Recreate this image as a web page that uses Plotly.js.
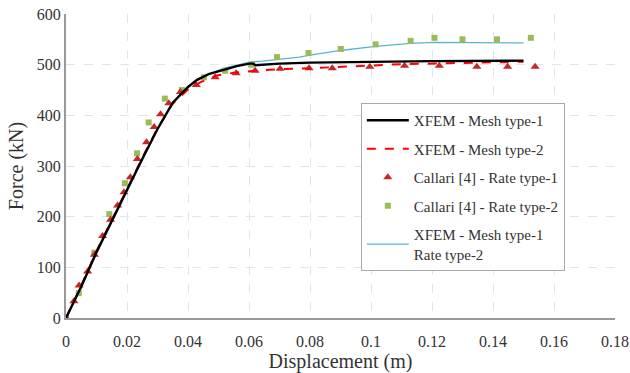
<!DOCTYPE html>
<html>
<head>
<meta charset="utf-8">
<script src="https://cdn.plot.ly/plotly-3.0.1.min.js"></script>
<style>html,body{margin:0;padding:0;background:#fff;}#chart{width:630px;height:373px;}</style>
</head>
<body>
<div id="chart"></div>
<script>
// XFEM - Mesh type-1
var mesh1X = [0, 0.005, 0.01, 0.015, 0.02, 0.025, 0.03, 0.035, 0.04, 0.043, 0.047, 0.0514, 0.056, 0.0601, 0.0615, 0.062, 0.07, 0.08, 0.1, 0.12, 0.15];
var mesh1Y = [0, 62, 130, 192, 252, 314, 373, 425, 456, 470, 482, 490, 497, 502, 502, 499, 502, 504, 506, 507, 508];
// XFEM - Mesh type-2
var mesh2X = [0, 0.005, 0.01, 0.015, 0.02, 0.025, 0.03, 0.035, 0.04, 0.044, 0.049, 0.055, 0.062, 0.07, 0.08, 0.09, 0.11, 0.135, 0.15];
var mesh2Y = [0, 64, 132, 194, 255, 316, 374, 423, 451, 465, 478, 484, 488, 491, 493, 496, 501, 504, 506];
// XFEM - Mesh type-1 Rate type-2
var rate2X = [0, 0.005, 0.01, 0.015, 0.02, 0.025, 0.03, 0.035, 0.04, 0.043, 0.0514, 0.0601, 0.0644, 0.071, 0.0765, 0.08, 0.09, 0.1015, 0.113, 0.1208, 0.15];
var rate2Y = [0, 60, 128, 190, 250, 312, 371, 424, 456, 471, 492, 505, 507, 511, 515, 519, 528, 536, 542, 544, 543];
// Callari [4] - Rate type-1
var cal1X = [0, 0.0026, 0.0043, 0.0071, 0.0093, 0.012, 0.0146, 0.0169, 0.019, 0.0211, 0.0234, 0.0264, 0.0289, 0.031, 0.0337, 0.0375, 0.0427, 0.0489, 0.0558, 0.062, 0.0702, 0.0797, 0.0873, 0.0996, 0.111, 0.1224, 0.1347, 0.1448, 0.1538];
var cal1Y = [0, 33, 64, 92, 125, 162, 194, 222, 248, 278, 314, 347, 377, 402, 424, 446, 460, 475, 483, 488, 492, 493, 493, 496, 498, 498, 496, 496, 496];
// Callari [4] - Rate type-2
var cal2X = [0, 0.0042, 0.0093, 0.0142, 0.0193, 0.0233, 0.0271, 0.0324, 0.038, 0.0452, 0.0522, 0.0607, 0.0692, 0.0795, 0.0901, 0.1015, 0.113, 0.1208, 0.13, 0.1413, 0.1524];
var cal2Y = [0, 49, 129, 205, 266, 325, 386, 433, 450, 475, 488, 500, 515, 523, 531, 540, 547, 553, 550, 550, 553];

var names = ['XFEM - Mesh type-1', 'XFEM - Mesh type-2', 'Callari [4] - Rate type-1', 'Callari [4] - Rate type-2', 'XFEM - Mesh type-1<br>Rate type-2'];

var traces = [
  {x: rate2X, y: rate2Y, mode: 'lines', name: names[4], legendgroup: 'e', legendrank: 5,
   line: {color: '#5bb5cf', width: 1.3}},
  {x: cal2X, y: cal2Y, mode: 'markers', name: names[3], legendgroup: 'd', legendrank: 4,
   marker: {symbol: 'square', size: 6, color: '#9bbb59'}},
  {x: cal1X, y: cal1Y, mode: 'markers', name: names[2], legendgroup: 'c', legendrank: 3,
   marker: {symbol: 'triangle-up', size: 8, color: '#c62828'}},
  {x: mesh2X, y: mesh2Y, mode: 'lines', name: names[1], legendgroup: 'b', legendrank: 2,
   line: {color: '#ff0000', width: 2, dash: 'dash'}},
  {x: mesh1X, y: mesh1Y, mode: 'lines', name: names[0], legendgroup: 'a', legendrank: 1,
   line: {color: '#000000', width: 2.4}}
];

var fontFam = '"Liberation Serif", "Times New Roman", serif';
var layout = {
  width: 630, height: 373,
  margin: {l: 66, r: 15, t: 14, b: 55},
  paper_bgcolor: '#ffffff', plot_bgcolor: '#ffffff',
  font: {family: fontFam, color: '#333333', size: 15},
  showlegend: true,
  legend: {
    x: 0.537, y: 0.707, xanchor: 'left', yanchor: 'top',
    bgcolor: '#ffffff', bordercolor: '#aaaaaa', borderwidth: 1,
    font: {family: fontFam, size: 15, color: '#333333'},
    traceorder: 'grouped', tracegroupgap: 6, itemwidth: 42
  },
  xaxis: {
    range: [0, 0.18], dtick: 0.02, tick0: 0,
    showgrid: true, gridcolor: '#dde6f0', griddash: 'dash', gridwidth: 1,
    showline: true, linecolor: '#999999', linewidth: 2,
    zeroline: false, ticks: 'outside', ticklen: 8, tickcolor: 'rgba(0,0,0,0)',
    tickfont: {family: fontFam, size: 16, color: '#333333'},
    title: {text: 'Displacement (m)', font: {family: fontFam, size: 20, color: '#333333'}, standoff: 6}
  },
  yaxis: {
    range: [0, 600], dtick: 100, tick0: 0,
    showgrid: true, gridcolor: '#dde6f0', griddash: 'dash', gridwidth: 1,
    showline: true, linecolor: '#999999', linewidth: 2,
    zeroline: false, ticks: '',
    tickfont: {family: fontFam, size: 16, color: '#333333'},
    title: {text: 'Force (kN)', font: {family: fontFam, size: 20, color: '#333333'}, standoff: 8}
  }
};

Plotly.newPlot('chart', traces, layout, {displayModeBar: false, staticPlot: true});
</script>
</body>
</html>
